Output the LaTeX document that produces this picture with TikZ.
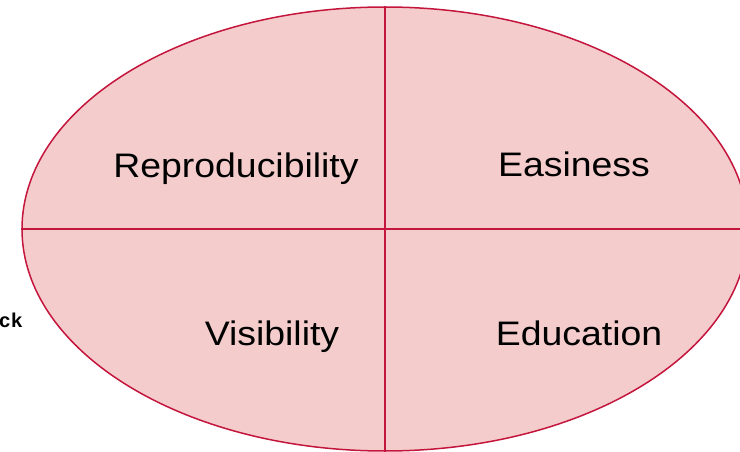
\documentclass[tikz,border=0pt]{standalone}
\usepackage{fontspec}
\setmainfont{Liberation Sans}
\newfontfamily\codefont{Liberation Mono}
\usetikzlibrary{shapes.geometric}

\definecolor{quadfill}{HTML}{F4CCCC}
\definecolor{quadline}{HTML}{C4163C}

\begin{document}
\begin{tikzpicture}[
        x = 1pt, y = -1pt,
        oval/.style = {ellipse, draw = quadline, fill = quadfill, line width = 1.5pt,
                       minimum width = 726pt, minimum height = 444pt, inner sep = 0pt},
        divider/.style = {draw = quadline, line width = 1.7pt},
        quadrant/.style = {anchor = base, inner sep = 0pt, font = \fontsize{34}{40}\selectfont}
    ]

      \useasboundingbox (0,0) rectangle (740,452);
      \clip (0,0) rectangle (740,452);

      % side text, cut off at the left
      \node[anchor = base east, inner sep = 0pt, font = \fontsize{20}{22}\selectfont\codefont\bfseries]
            (side) at (23,327) {ck};

      \node[oval] (oval) at (385,229) {};

      \draw[divider] (oval.north) -- (oval.south);
      \draw[divider] (oval.west) -- (oval.east);

      \node[quadrant] (repro) at (236,178) {\scalebox{1.1}[1]{Reproducibility}};
      \node[quadrant] (easy)  at (574,176) {\scalebox{1.1}[1]{Easiness}};
      \node[quadrant] (visib) at (272,345) {\scalebox{1.1}[1]{Visibility}};
      \node[quadrant] (edu)   at (579,345) {\scalebox{1.1}[1]{Education}};

\end{tikzpicture}
\end{document}
